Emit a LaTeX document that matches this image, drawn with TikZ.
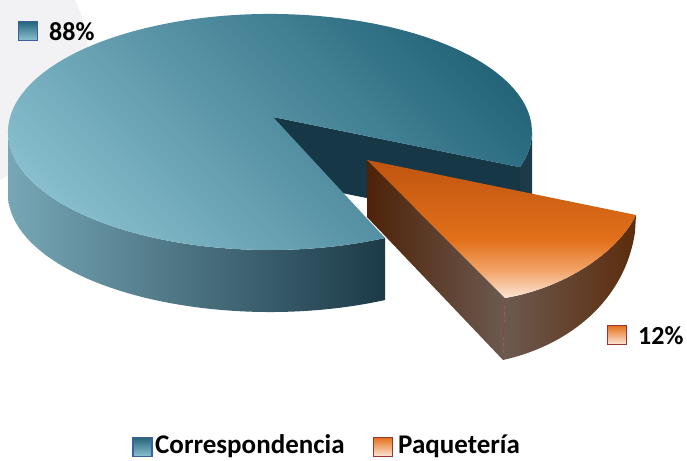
\documentclass[tikz,border=0pt]{standalone}
\usepackage{fontspec}
\setmainfont{Carlito}
\usetikzlibrary{positioning}

\definecolor{backgray}{HTML}{F2F2F4}
\definecolor{pielight}{HTML}{8CC2D1}
\definecolor{piemid}{HTML}{3A8AA2}
\definecolor{piedark}{HTML}{24657A}
\definecolor{sidelight}{HTML}{77A7B6}
\definecolor{sidemid}{HTML}{4B7786}
\definecolor{sidedark}{HTML}{1C3A48}
\definecolor{cutdark}{HTML}{163746}
\definecolor{slicetop}{HTML}{BF5510}
\definecolor{slicemid}{HTML}{E3701A}
\definecolor{slicesoft}{HTML}{F2A468}
\definecolor{slicelight}{HTML}{FCE6D6}
\definecolor{browndark}{HTML}{4E2208}
\definecolor{browngray}{HTML}{6C5A50}
\definecolor{brownrust}{HTML}{5C2C0C}
\definecolor{keyblue}{HTML}{3C5F9E}
\definecolor{keyred}{HTML}{943634}

\pgfdeclareverticalshading{slicefade}{100bp}{color(0bp)=(slicelight); color(25bp)=(slicelight); color(35bp)=(slicesoft); color(46bp)=(slicemid); color(75bp)=(slicetop); color(100bp)=(slicetop)}

\begin{document}
\begin{tikzpicture}[x=1pt,y=1pt,
	pct/.style={font=\bfseries\fontsize{26}{30}\selectfont, inner sep=0pt, anchor=base west},
	legtext/.style={pct, font=\bfseries\fontsize{27}{30}\selectfont},
	keybox/.style={minimum size=19pt, inner sep=0pt, line width=1.2pt},
	bluekey/.style={keybox, draw=keyblue, top color=piedark, bottom color=pielight},
	orangekey/.style={keybox, draw=keyred, top color=slicemid, bottom color=slicelight}]
				\useasboundingbox (0,0) rectangle (687,460);
				%draw grey backdrop
				\fill[backgray] (0,460) -- (75,460) .. controls (95,420) and (100,340) .. (40,305) -- (0,280) -- cycle;
				%draw back cut face
				\fill[cutdark] (273,343) -- (520,292.8) -- (520,230.8) -- (273,281) -- cycle;
				%draw right side sliver
				\fill[sidedark] (520,292.8) arc[start angle=-17.4, end angle=0, x radius=262, y radius=118] -- ++(0,-62) arc[start angle=0, end angle=-17.4, x radius=262, y radius=118] -- cycle;
				%draw front side
				\shade[left color=sidelight, middle color=sidemid, right color=sidedark] (8,328) arc[start angle=180, end angle=296.04, x radius=262, y radius=118] -- ++(0,-62) arc[start angle=296.04, end angle=180, x radius=262, y radius=118] -- cycle;
				%draw top face
				\shade[top color=pielight, middle color=piemid, bottom color=piedark, shading angle=135] (273,343) -- (385,222) arc[start angle=-63.96, end angle=-377.4, x radius=262, y radius=118] -- cycle;
				%draw slice left face
				\shade[left color=browndark, right color=browngray] (367,300) -- (505,162) -- (503,100) -- (367,243) -- cycle;
				%draw slice outer side
				\shade[left color=browngray, right color=brownrust] (505,162) .. controls (565,172) and (618,208) .. (636,245) -- (635,228) .. controls (625,160) and (570,115) .. (503,100) -- cycle;
				%draw slice top
				\shade[shading=slicefade] (367,300) -- (636,245) .. controls (618,208) and (565,172) .. (505,162) -- cycle;
				\draw[keyred, line width=0.4pt] (505,162) -- (503,100);
				%draw labels
				\node[bluekey] (k88) at (27.8,429) {};
				\node[pct] (t88) at (49,419) {88\%};
				\node[orangekey] (k12) at (617,125) {};
				\node[pct] (t12) at (638,115) {12\%};
				%draw legend
				\node[bluekey] (kcor) at (142.5,13) {};
				\node[legtext] (tcor) at (155,7) {Correspondencia};
				\node[orangekey] (kpaq) at (383,13) {};
				\node[legtext] (tpaq) at (398,7) {Paquetería};
\end{tikzpicture}
\end{document}
